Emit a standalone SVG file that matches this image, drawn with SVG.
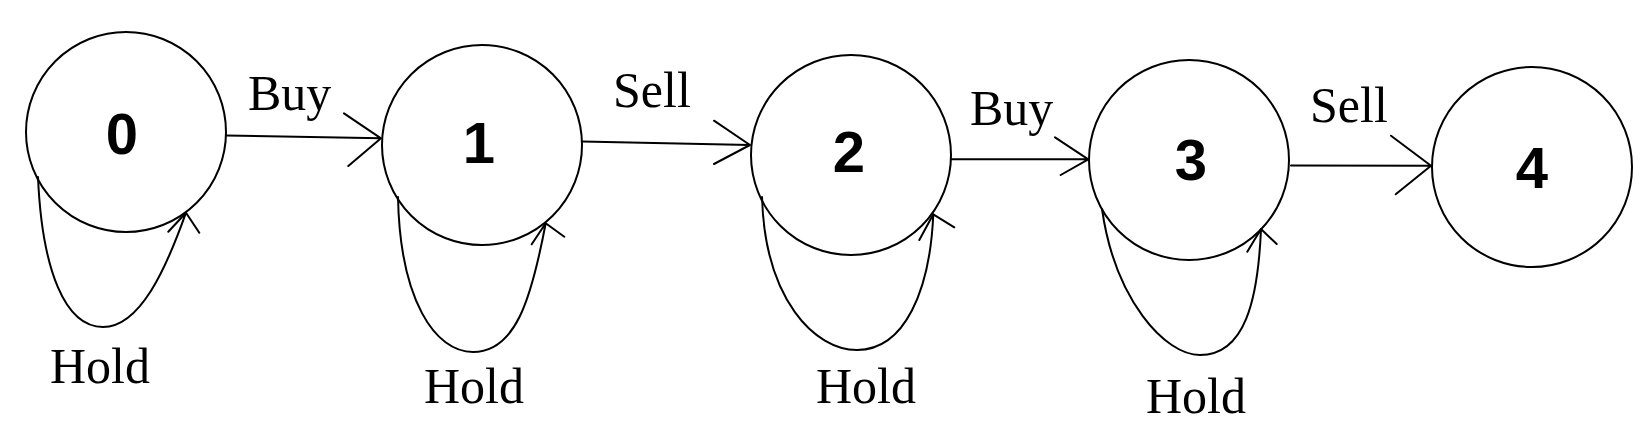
<svg xmlns="http://www.w3.org/2000/svg" width="1649" height="438" viewBox="0 0 1649 438">
<style>
.node{fill:none;stroke:#000;stroke-width:2}
.num{font-family:"Liberation Sans",Arial,sans-serif;font-weight:bold;font-size:58px;fill:#000;text-anchor:middle}
.lbl{font-family:"Liberation Serif","Times New Roman",serif;font-size:50px;fill:#000}
.edge{fill:none;stroke:#000;stroke-width:2;stroke-linecap:round;stroke-linejoin:round}
</style>
<rect width="1649" height="438" fill="#fff"/>
<g id="node-0"><circle class="node" cx="126" cy="132" r="100"/><text class="num" x="122" y="154">0</text></g>
<g id="node-1"><circle class="node" cx="482" cy="145" r="100"/><text class="num" x="479" y="163">1</text></g>
<g id="node-2"><circle class="node" cx="851" cy="155" r="100"/><text class="num" x="849" y="172">2</text></g>
<g id="node-3"><circle class="node" cx="1189" cy="160" r="100"/><text class="num" x="1191" y="180">3</text></g>
<g id="node-4"><circle class="node" cx="1532" cy="167" r="100"/><text class="num" x="1532" y="188">4</text></g>
<g id="connectors">
<path class="edge" d="M226,135.5 L381,138.3 M344,113.3 L381,138.3 L348.3,166"/>
<path class="edge" d="M582,141.5 L750,145 M714,120.7 L750,145 L714,164"/>
<path class="edge" d="M951,159.3 L1088.3,159.3 M1055,137.3 L1088.3,159.3 L1060.7,175"/>
<path class="edge" d="M1291,165.5 L1431,165.7 M1391,135.7 L1431,165.7 L1395.7,194.3"/>
<path class="edge" d="M38,177 C42,270 65,327 103,327 C140,327 166,269 186,212.7 M168.3,231.7 L186,212.7 L199.3,232.7"/>
<path class="edge" d="M398,197 C400,300 435,352 473,352 C515,352 531,301 545.7,223.3 M531.7,244.3 L545.7,223.3 L564.3,236.7"/>
<path class="edge" d="M762,197 C765,300 815,350 857,350 C905,350 930,290 933.3,214.3 M919.3,240 L933.3,214.3 L954.3,227.3"/>
<path class="edge" d="M1102,209 C1115,300 1165,355 1200,355 C1245,355 1258,300 1261,229 M1247.3,251.7 L1261,229 L1276.7,244"/>
<text class="lbl" x="248" y="110">Buy</text>
<text class="lbl" x="613" y="107">Sell</text>
<text class="lbl" x="970" y="125">Buy</text>
<text class="lbl" x="1310" y="122">Sell</text>
<text class="lbl" x="50" y="383">Hold</text>
<text class="lbl" x="424" y="403">Hold</text>
<text class="lbl" x="816" y="403">Hold</text>
<text class="lbl" x="1146" y="413">Hold</text>
</g>
</svg>
